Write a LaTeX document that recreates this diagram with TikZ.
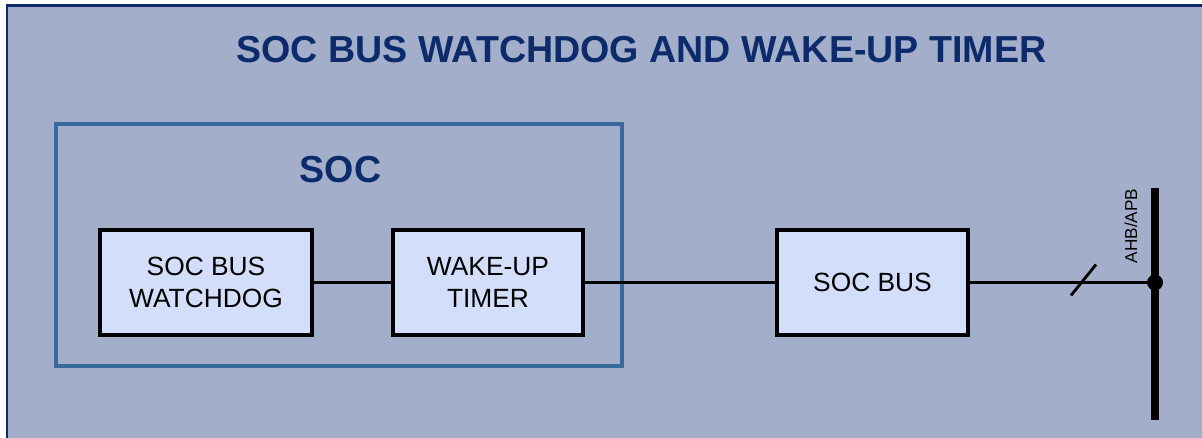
\documentclass[tikz,border=0pt]{standalone}
\usepackage{fontspec}
\setmainfont{Liberation Sans}
\definecolor{panelbg}{HTML}{A3AECA}
\definecolor{navy}{HTML}{0D2A6B}
\definecolor{socblue}{HTML}{386A9B}
\definecolor{blockfill}{HTML}{D3DEFA}

\begin{document}
\begin{tikzpicture}[x=0.02cm,y=-0.02cm,
    block/.style={draw=black, line width=1.8pt, fill=blockfill, align=center,
      font=\fontsize{15}{18.7}\selectfont, inner sep=0pt},
    wire/.style={line width=1.6pt}]
    \useasboundingbox (0,0) rectangle (1202,438) ;
    \clip (0,0) rectangle (1202,438) ;
    \draw[draw=navy, line width=1.7pt, fill=panelbg] (7,6) rectangle (1215,450) ;
    \node[text=navy, font=\fontsize{21.4}{24}\selectfont\bfseries] (title) at (641.5,50) {SOC BUS WATCHDOG AND WAKE-UP TIMER} ;
    \draw[socblue, line width=2.2pt] (56,124) rectangle (622,366) ;
    \node[text=navy, font=\fontsize{21.4}{24}\selectfont\bfseries] (soclabel) at (340.5,170) {SOC} ;
    \node[block, minimum width=4.24cm, minimum height=2.1cm] (watchdog) at (206,282.5) {SOC BUS\\WATCHDOG} ;
    \node[block, minimum width=3.8cm, minimum height=2.1cm] (timer) at (488,282.5) {WAKE-UP\\TIMER} ;
    \node[block, minimum width=3.82cm, minimum height=2.1cm] (socbus) at (872.5,282.5) {SOC BUS} ;
    \draw[line width=4.5pt] (1155,188) -- (1155,420) ;
    \fill (1155,282.5) circle (0.16cm) coordinate (tap) ;
    \node[rotate=90, font=\fontsize{9.8}{11}\selectfont] (ahb) at (1131,226) {AHB/APB} ;
    \draw[wire] (watchdog.east) -- (timer.west) ;
    \draw[wire] (timer.east) -- (socbus.west) ;
    \draw[wire] (socbus.east) -- (tap) ;
    \coordinate (cut) at (1083.5,282.5) ;
    \draw[wire] ([shift={(-12.5,13)}]cut) -- ([shift={(12.5,-18)}]cut) ;
  \end{tikzpicture}
\end{document}
